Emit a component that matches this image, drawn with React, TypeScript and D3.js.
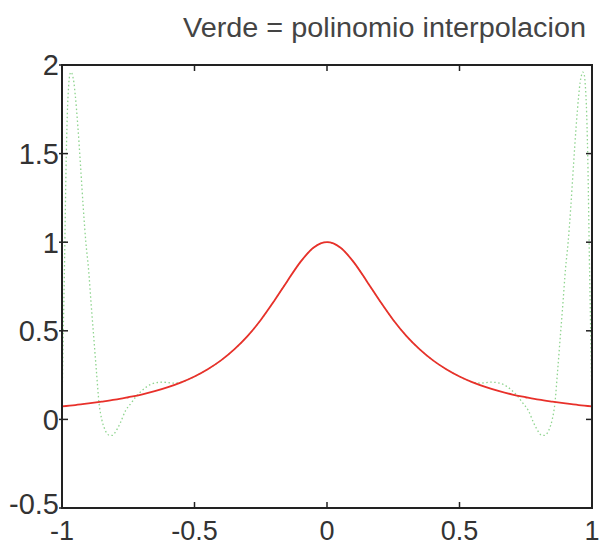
import React from "react";
import * as d3 from "d3";

const title = "Verde = polinomio interpolacion";
const xTicks = [-1, -0.5, 0, 0.5, 1];
const yTicks = [-0.5, 0, 0.5, 1, 1.5, 2];
const xTickLabels = ["-1", "-0.5", "0", "0.5", "1"];
const yTickLabels = ["-0.5", "0", "0.5", "1", "1.5", "2"];

// red curve (function)
const redX = [-1, -0.95, -0.9, -0.85, -0.8, -0.75, -0.7, -0.65, -0.6, -0.55, -0.5, -0.45, -0.4, -0.35, -0.3, -0.25, -0.2, -0.15, -0.1, -0.05, 0,
  0.05, 0.1, 0.15, 0.2, 0.25, 0.3, 0.35, 0.4, 0.45, 0.5, 0.55, 0.6, 0.65, 0.7, 0.75, 0.8, 0.85, 0.9, 0.95, 1];
const redY = [0.074, 0.081, 0.09, 0.1, 0.111, 0.125, 0.14, 0.159, 0.182, 0.209, 0.242, 0.283, 0.333, 0.395, 0.47, 0.561, 0.667, 0.78, 0.889, 0.97, 1,
  0.97, 0.889, 0.78, 0.667, 0.561, 0.47, 0.395, 0.333, 0.283, 0.242, 0.209, 0.182, 0.159, 0.14, 0.125, 0.111, 0.1, 0.09, 0.081, 0.074];

// green curve (interpolating polynomial)
const greenX = [-1, -0.995, -0.99, -0.985, -0.98, -0.975, -0.97, -0.965, -0.96, -0.955, -0.95, -0.94, -0.93, -0.92, -0.91, -0.9, -0.89, -0.88, -0.87, -0.86, -0.85, -0.84, -0.83, -0.82, -0.81, -0.8, -0.79, -0.78, -0.76, -0.74, -0.72, -0.7, -0.68, -0.65, -0.62, -0.58, -0.55, -0.5, -0.45, -0.4, -0.35, -0.3, -0.25, -0.2, -0.15, -0.1, -0.05, 0,
  0.05, 0.1, 0.15, 0.2, 0.25, 0.3, 0.35, 0.4, 0.45, 0.5, 0.55, 0.58, 0.62, 0.65, 0.68, 0.7, 0.72, 0.74, 0.76, 0.78, 0.79, 0.8, 0.81, 0.82, 0.83, 0.84, 0.85, 0.86, 0.87, 0.88, 0.89, 0.9, 0.91, 0.92, 0.93, 0.94, 0.95, 0.955, 0.96, 0.965, 0.97, 0.975, 0.98, 0.985, 0.99, 0.995, 1];
const greenY = [0.074, 0.5, 0.92, 1.4, 1.72, 1.88, 1.95, 1.96, 1.94, 1.9, 1.83, 1.65, 1.43, 1.2, 1.0, 0.85, 0.65, 0.46, 0.27, 0.09, 0.0, -0.05, -0.08, -0.09, -0.09, -0.075, -0.05, -0.02, 0.05, 0.09, 0.13, 0.16, 0.185, 0.205, 0.21, 0.205, 0.21, 0.242, 0.283, 0.333, 0.395, 0.47, 0.561, 0.667, 0.78, 0.889, 0.97, 1,
  0.97, 0.889, 0.78, 0.667, 0.561, 0.47, 0.395, 0.333, 0.283, 0.242, 0.21, 0.205, 0.21, 0.205, 0.185, 0.16, 0.13, 0.09, 0.05, -0.02, -0.05, -0.075, -0.09, -0.09, -0.08, -0.05, 0.0, 0.09, 0.27, 0.46, 0.65, 0.85, 1.0, 1.2, 1.43, 1.65, 1.83, 1.9, 1.94, 1.96, 1.95, 1.88, 1.72, 1.4, 0.92, 0.5, 0.074];

const W = 600, H = 549;
const L = 62, R = 592, T = 65, B = 508;

export default function App() {
  const x = d3.scaleLinear().domain([-1, 1]).range([L, R]);
  const y = d3.scaleLinear().domain([-0.5, 2]).range([B, T]);
  const line = d3.line<[number, number]>().x(d => x(d[0])).y(d => y(d[1])).curve(d3.curveMonotoneX);
  const red = line(redX.map((v, i) => [v, redY[i]] as [number, number])) || "";
  const green = line(greenX.map((v, i) => [v, greenY[i]] as [number, number])) || "";
  const font = "Arial, 'Liberation Sans', sans-serif";
  const tl = 6;
  return (
    <svg width={W} height={H} style={{ position: "absolute", left: 0, top: 0, background: "#fff" }}>
      <defs>
        <clipPath id="plot"><rect x={L} y={T} width={R - L} height={B - T} /></clipPath>
      </defs>
      <text x={586} y={37} textAnchor="end" fontFamily={font} fontSize={27} fill="#444" textLength={403} lengthAdjust="spacingAndGlyphs">{title}</text>
      <g clipPath="url(#plot)">
        <path d={green} fill="none" stroke="#8fd48f" strokeWidth={1.3} strokeDasharray="1.5,2.5" />
        <path d={red} fill="none" stroke="#e8302a" strokeWidth={1.8} />
      </g>
      <rect x={L} y={T} width={R - L} height={B - T} fill="none" stroke="#222" strokeWidth={2} />
      {xTicks.map((t, i) => (
        <g key={"x" + i}>
          <line x1={x(t)} x2={x(t)} y1={B} y2={B - tl} stroke="#222" strokeWidth={1.5} />
          <line x1={x(t)} x2={x(t)} y1={T} y2={T + tl} stroke="#222" strokeWidth={1.5} />
          <text x={x(t)} y={540} textAnchor="middle" fontFamily={font} fontSize={27} fill="#333">{xTickLabels[i]}</text>
        </g>
      ))}
      {yTicks.map((t, i) => (
        <g key={"y" + i}>
          <line x1={L - 3} x2={L + tl} y1={y(t)} y2={y(t)} stroke="#222" strokeWidth={1.5} />
          <line x1={R} x2={R - tl} y1={y(t)} y2={y(t)} stroke="#222" strokeWidth={1.5} />
          <text x={L - 3} y={y(t) - (i === 0 ? 4 : 0)} dy="0.36em" textAnchor="end" fontFamily={font} fontSize={29} fill="#333">{yTickLabels[i]}</text>
        </g>
      ))}
    </svg>
  );
}
